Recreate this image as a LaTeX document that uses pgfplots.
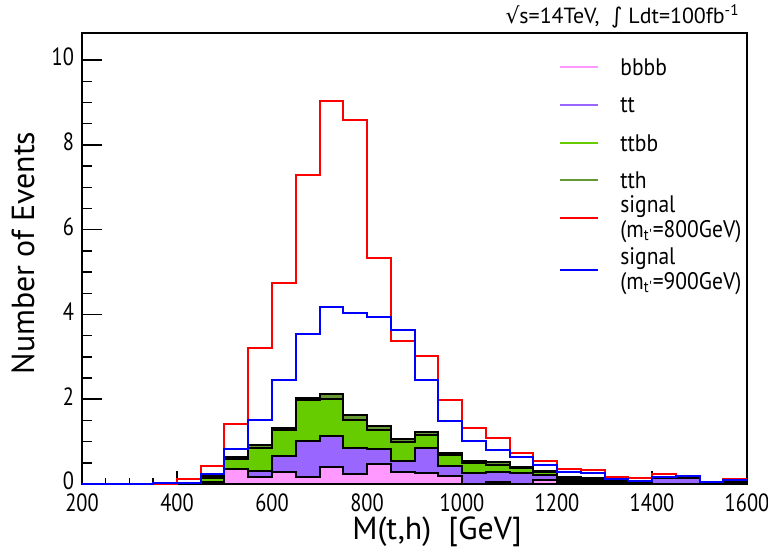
\documentclass[border=0pt]{standalone}
\usepackage{fontspec}
\setmainfont{PT Sans}
\newfontfamily\narrowfont{PT Sans}[FakeStretch=0.9]
\newfontfamily\tickfont{PT Sans}[FakeStretch=0.82]
\newfontfamily\dejavu{DejaVu Sans}
\usepackage{pgfplots}
\pgfplotsset{compat=1.18}
\usepackage{pgfplotstable}

\definecolor{cbbbb}{HTML}{FF99FF}
\definecolor{ctt}{HTML}{9966FF}
\definecolor{cttbb}{HTML}{66CC00}
\definecolor{ctth}{HTML}{669933}

% stacked backgrounds, value per bin (left edge), last row closes the 1600 edge
\pgfplotstableread{
x    bbbb tt   ttbb tth
200  0    0    0    0
250  0    0    0    0
300  0    0    0    0
350  0    0    0    0
400  0.01 0    0.01 0
450  0.02 0.02 0.10 0.05
500  0.35 0    0.24 0.05
550  0.17 0.14 0.55 0.06
600  0.29 0.37 0.61 0.06
650  0.17 0.85 0.95 0.05
700  0.41 0.72 0.88 0.12
750  0.24 0.61 0.65 0.12
800  0.47 0.36 0.45 0.08
850  0.29 0.26 0.43 0.07
900  0.25 0.60 0.30 0.07
950  0.18 0.25 0.25 0.06
1000 0.00 0.25 0.25 0.05
1050 0.04 0.24 0.18 0.05
1100 0.00 0.25 0.12 0.04
1150 0.10 0.12 0.06 0.03
1200 0.03 0.04 0.05 0.04
1250 0.03 0.04 0.05 0.03
1300 0.01 0.01 0.03 0.02
1350 0.00 0.05 0.00 0.01
1400 0.00 0.14 0.01 0.01
1450 0.00 0.15 0.01 0.00
1500 0.00 0.01 0.01 0.00
1550 0.05 0.01 0.01 0.01
1600 0.05 0.01 0.01 0.01
}\bkg

\pgfplotstableread{
x    s800 s900
200  0    0
250  0    0
300  0    0
350  0    0.03
400  0.11 0.03
450  0.42 0.24
500  1.42 0.83
550  3.21 1.52
600  4.75 2.45
650  7.29 3.54
700  9.03 4.17
750  8.58 4.04
800  5.33 3.95
850  3.38 3.64
900  3.01 2.45
950  1.97 1.49
1000 1.31 1.01
1050 1.09 0.80
1100 0.74 0.64
1150 0.55 0.46
1200 0.36 0.28
1250 0.32 0.27
1300 0.17 0.12
1350 0.13 0.07
1400 0.24 0.17
1450 0.20 0.20
1500 0.05 0.05
1550 0.12 0.09
1600 0.12 0.09
}\sig

\begin{document}
\begin{tikzpicture}
\begin{axis}[
    scale only axis,
    width=332.5bp, height=225.5bp,
    xmin=200, xmax=1600,
    ymin=0, ymax=10.64,
    xtick={200,400,...,1600},
    ytick={0,2,...,10},
    minor x tick num=3,
    minor y tick num=3,
    tick align=inside,
    tick pos=left,
    xtick style={/pgfplots/major tick length=6.5bp, /pgfplots/minor tick length=3bp},
    ytick style={/pgfplots/major tick length=10bp, /pgfplots/minor tick length=5bp},
    axis line style={line width=0.75bp},
    every tick/.style={black, line width=0.75bp},
    /pgf/number format/assume math mode=true,
    /pgf/number format/1000 sep={},
    ticklabel style={font=\tickfont\fontsize{12.5}{12.5}\selectfont},
    xticklabel style={yshift=-1.5bp},
    yticklabel style={xshift=-0.5bp, yshift=1.5bp},
    clip=false,
    const plot,
]
\addplot[fill=ctth, draw=black, line width=1bp]
    table[x=x, y expr=\thisrow{bbbb}+\thisrow{tt}+\thisrow{ttbb}+\thisrow{tth}] {\bkg} \closedcycle;
\addplot[fill=cttbb, draw=black, line width=1bp]
    table[x=x, y expr=\thisrow{bbbb}+\thisrow{tt}+\thisrow{ttbb}] {\bkg} \closedcycle;
\addplot[fill=ctt, draw=black, line width=1bp]
    table[x=x, y expr=\thisrow{bbbb}+\thisrow{tt}] {\bkg} \closedcycle;
\addplot[fill=cbbbb, draw=black, line width=1bp]
    table[x=x, y=bbbb] {\bkg} \closedcycle;

\addplot[red, line width=1bp] table[x=x, y=s800] {\sig};
\addplot[blue, line width=1bp] table[x=x, y=s900] {\sig};

% legend
\begin{scope}[font=\narrowfont\fontsize{12}{12.5}\selectfont]
\draw[cbbbb, line width=1bp] (rel axis cs:0.719,0.9246) -- (rel axis cs:0.776,0.9246);
\node[anchor=west, inner sep=0pt] at (rel axis cs:0.809,0.9246) {bbbb};
\draw[ctt, line width=1bp] (rel axis cs:0.719,0.840) -- (rel axis cs:0.776,0.840);
\node[anchor=west, inner sep=0pt] at (rel axis cs:0.809,0.840) {tt};
\draw[cttbb, line width=1bp] (rel axis cs:0.719,0.756) -- (rel axis cs:0.776,0.756);
\node[anchor=west, inner sep=0pt] at (rel axis cs:0.809,0.756) {ttbb};
\draw[ctth, line width=1bp] (rel axis cs:0.719,0.674) -- (rel axis cs:0.776,0.674);
\node[anchor=west, inner sep=0pt] at (rel axis cs:0.809,0.674) {tth};
\draw[red, line width=1bp] (rel axis cs:0.719,0.590) -- (rel axis cs:0.776,0.590);
\node[anchor=west, inner sep=0pt, align=left] at (rel axis cs:0.809,0.588) {signal\\(m\textsubscript{t'}=800GeV)};
\draw[blue, line width=1bp] (rel axis cs:0.719,0.4745) -- (rel axis cs:0.776,0.4745);
\node[anchor=west, inner sep=0pt, align=left] at (rel axis cs:0.809,0.4725) {signal\\(m\textsubscript{t'}=900GeV)};
\end{scope}

\node[font=\fontsize{16}{16}\selectfont] at (rel axis cs:0.534,-0.106) {M(t,h)\ \ [GeV]};
\node[font=\fontsize{16}{16}\selectfont, rotate=90] at (rel axis cs:-0.0887,0.512) {Number of Events};
\node[anchor=east, inner sep=0pt, font=\fontsize{11}{11}\selectfont] at (rel axis cs:0.9895,1.0377)
    {{\dejavu √}s=14TeV,\ \ {\dejavu ∫} Ldt=100fb\textsuperscript{-1}};

\coordinate (bl) at (rel axis cs:0,0);
\coordinate (tr) at (rel axis cs:1,1);
\end{axis}
\pgfresetboundingbox
\path ([shift={(-41bp,-35.5bp)}]bl) rectangle ([shift={(10.5bp,16.5bp)}]tr);
\end{tikzpicture}
\end{document}
